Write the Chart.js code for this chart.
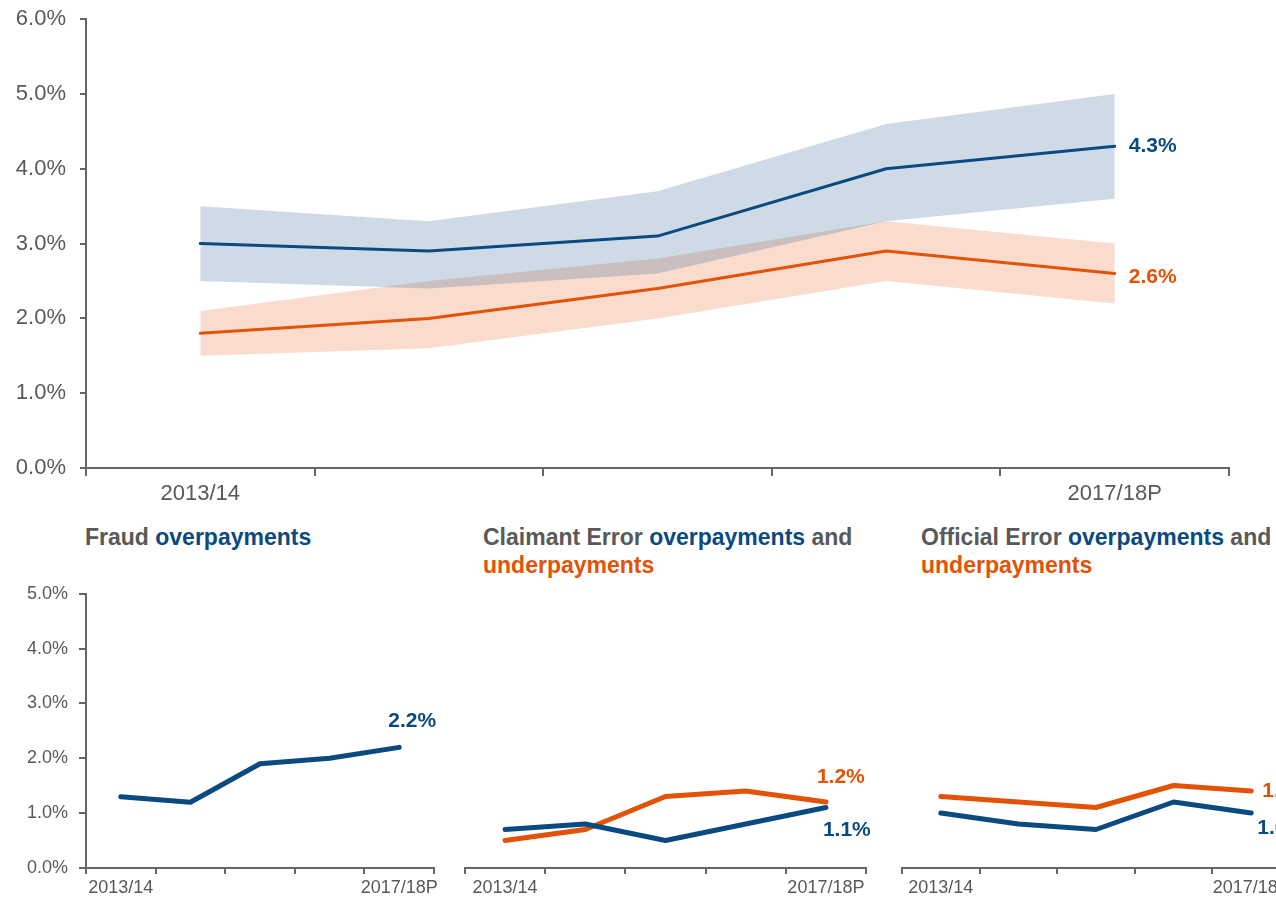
<!DOCTYPE html>
<html>
<head>
<meta charset="utf-8">
<script src="https://cdn.jsdelivr.net/npm/chart.js@4"></script>
<style>
  html, body { margin: 0; padding: 0; background: #fff; overflow: hidden; width: 1276px; height: 901px; }
  .box { position: absolute; }
  .title { position: absolute; font-family: "Liberation Sans", Arial, sans-serif; font-weight: bold; font-size: 23px; line-height: 28px; color: #595959; white-space: nowrap; }
  .blue { color: #0b4a80; }
  .orange { color: #e35205; }
</style>
</head>
<body>
<div class="box" style="left:0;top:-8px;"><canvas id="main" width="1276" height="518"></canvas></div>

<div class="title" style="left:85px;top:523px;">Fraud <span class="blue">overpayments</span></div>
<div class="title" style="left:483px;top:523px;">Claimant Error <span class="blue">overpayments</span> and<br><span class="orange">underpayments</span></div>
<div class="title" style="left:921px;top:523px;">Official Error <span class="blue">overpayments</span> and<br><span class="orange">underpayments</span></div>

<div class="box" style="left:0;top:572px;"><canvas id="fraud" width="460" height="328"></canvas></div>
<div class="box" style="left:460px;top:572px;"><canvas id="claimant" width="440" height="328"></canvas></div>
<div class="box" style="left:895px;top:572px;"><canvas id="official" width="440" height="328"></canvas></div>

<script>
// years
var years = ['2013/14', '2014/15', '2015/16', '2016/17', '2017/18P'];

// headline rates (%) with confidence ranges
var overpay = [3.0, 2.9, 3.1, 4.0, 4.3];
var overpayLow = [2.5, 2.4, 2.6, 3.3, 3.6];
var overpayHigh = [3.5, 3.3, 3.7, 4.6, 5.0];
var underpay = [1.8, 2.0, 2.4, 2.9, 2.6];
var underpayLow = [1.5, 1.6, 2.0, 2.5, 2.2];
var underpayHigh = [2.1, 2.5, 2.8, 3.3, 3.0];

// breakdown (%)
var fraudOver = [1.3, 1.2, 1.9, 2.0, 2.2];
var claimantOver = [0.7, 0.8, 0.5, 0.8, 1.1];
var claimantUnder = [0.5, 0.7, 1.3, 1.4, 1.2];
var officialOver = [1.0, 0.8, 0.7, 1.2, 1.0];
var officialUnder = [1.3, 1.2, 1.1, 1.5, 1.4];

// axis maxima
var mainMax = 6;
var smallMax = 5;

var FONT = '"Liberation Sans", Arial, sans-serif';
var BLUE = '#0b4a80';
var ORANGE = '#e35205';
var BLUE_BAND = 'rgba(11, 74, 128, 0.2)';
var ORANGE_BAND = 'rgba(227, 82, 5, 0.2)';
var AXIS = '#666666';
var TEXT = '#595959';

// draws the last value next to the end of a line
var endLabels = {
  id: 'endLabels',
  afterDatasetsDraw: function (chart, args, opts) {
    var ctx = chart.ctx;
    (opts.items || []).forEach(function (it) {
      var meta = chart.getDatasetMeta(it.index);
      var pt = meta.data[meta.data.length - 1];
      var ds = chart.data.datasets[it.index];
      var v = ds.data[ds.data.length - 1];
      ctx.save();
      ctx.font = 'bold 21px ' + FONT;
      ctx.fillStyle = ds.borderColor;
      ctx.textAlign = 'left';
      ctx.textBaseline = 'middle';
      ctx.fillText(v.toFixed(1) + '%', pt.x + it.dx, pt.y + it.dy);
      ctx.restore();
    });
  }
};

function xAxis(fontSize, tickLen, pad, height) {
  return {
    type: 'category',
    offset: true,
    grid: { offset: true, drawOnChartArea: false, drawTicks: true, tickLength: tickLen, color: AXIS, lineWidth: 2 },
    border: { color: AXIS, width: 2 },
    ticks: {
      font: { family: FONT, size: fontSize }, color: TEXT, padding: pad,
      autoSkip: false, maxRotation: 0,
      callback: function (v, i, t) {
        return (i === 0 || i === t.length - 1) ? this.getLabelForValue(v) : '';
      }
    },
    afterFit: function (s) { s.height = height; }
  };
}

function yAxis(max, show, fontSize, tickLen, pad, width) {
  return {
    display: show,
    min: 0, max: max,
    grid: { drawOnChartArea: false, drawTicks: true, tickLength: tickLen, color: AXIS, lineWidth: 2 },
    border: { color: AXIS, width: 2 },
    ticks: {
      stepSize: 1,
      font: { family: FONT, size: fontSize }, color: TEXT, padding: pad,
      callback: function (v) { return v.toFixed(1) + '%'; }
    },
    afterFit: function (s) { s.width = width; }
  };
}

function lineSet(data, color, width) {
  return { data: data, borderColor: color, borderWidth: width, pointRadius: 0, tension: 0, fill: false, borderCapStyle: 'round', borderJoinStyle: 'round' };
}

function bandSet(data, fillColor, target) {
  return { data: data, borderWidth: 0, borderColor: 'rgba(0,0,0,0)', backgroundColor: fillColor, pointRadius: 0, tension: 0, fill: target };
}

var baseOpts = {
  responsive: false,
  animation: false,
  events: [],
  plugins: { legend: { display: false }, tooltip: { enabled: false } }
};

function opts(extra) {
  return Object.assign({}, baseOpts, extra, { plugins: Object.assign({}, baseOpts.plugins, extra.plugins) });
}

// main chart
new Chart(document.getElementById('main'), {
  type: 'line',
  data: {
    labels: years,
    datasets: [
      lineSet(overpay, BLUE, 3),
      lineSet(underpay, ORANGE, 3),
      bandSet(overpayLow, 'rgba(0,0,0,0)', false),
      bandSet(overpayHigh, BLUE_BAND, { target: 2 }),
      bandSet(underpayLow, 'rgba(0,0,0,0)', false),
      bandSet(underpayHigh, ORANGE_BAND, { target: 4 })
    ]
  },
  options: opts({
    layout: { padding: { left: 0, top: 10, right: 47, bottom: 0 } },
    scales: {
      x: xAxis(22, 8, 5, 42),
      y: yAxis(mainMax, true, 22, 6, 14, 86)
    },
    plugins: { endLabels: { items: [{ index: 0, dx: 14, dy: 0 }, { index: 1, dx: 14, dy: 4 }] } }
  }),
  plugins: [endLabels]
});

// fraud
new Chart(document.getElementById('fraud'), {
  type: 'line',
  data: { labels: years, datasets: [lineSet(fraudOver, BLUE, 5)] },
  options: opts({
    layout: { padding: { left: 0, top: 5, right: 26, bottom: 0 } },
    scales: {
      x: xAxis(18, 6, 3, 32),
      y: yAxis(smallMax, true, 18, 7, 11, 86)
    },
    plugins: { endLabels: { items: [{ index: 0, dx: -11, dy: -26 }] } }
  }),
  plugins: [endLabels]
});

// claimant error
new Chart(document.getElementById('claimant'), {
  type: 'line',
  data: { labels: years, datasets: [lineSet(claimantOver, BLUE, 5), lineSet(claimantUnder, ORANGE, 5)] },
  options: opts({
    layout: { padding: { left: 5, top: 21, right: 34, bottom: 0 } },
    scales: {
      x: xAxis(18, 6, 3, 32),
      y: yAxis(smallMax, false, 18, 7, 11, 0)
    },
    plugins: { endLabels: { items: [{ index: 0, dx: -3, dy: 23 }, { index: 1, dx: -9, dy: -25 }] } }
  }),
  plugins: [endLabels]
});

// official error
new Chart(document.getElementById('official'), {
  type: 'line',
  data: { labels: years, datasets: [lineSet(officialOver, BLUE, 5), lineSet(officialUnder, ORANGE, 5)] },
  options: opts({
    layout: { padding: { left: 7, top: 21, right: 45, bottom: 0 } },
    scales: {
      x: xAxis(18, 6, 3, 32),
      y: yAxis(smallMax, false, 18, 7, 11, 0)
    },
    plugins: { endLabels: { items: [{ index: 0, dx: 6, dy: 15 }, { index: 1, dx: 11, dy: 0 }] } }
  }),
  plugins: [endLabels]
});
</script>
</body>
</html>
